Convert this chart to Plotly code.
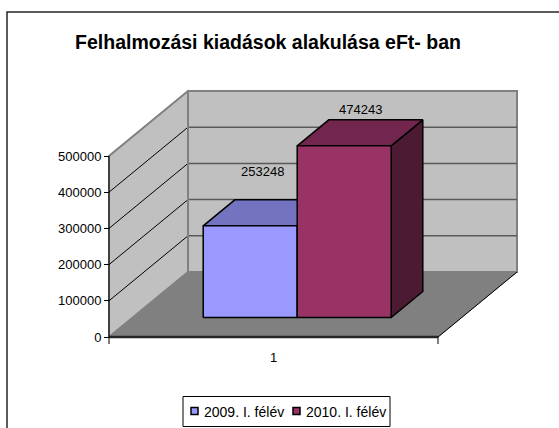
import plotly.graph_objects as go

# ---------------- data ----------------
categories = ["1"]
series_names = ["2009. I. félév", "2010. I. félév"]
series_values = [253248, 474243]
y_tick_values = [0, 100000, 200000, 300000, 400000, 500000]
title_text = "Felhalmozási kiadások alakulása eFt- ban"

# ---------------- style ----------------
front_colors = ["#9999FF", "#993366"]
top_colors = ["#7373C0", "#73264D"]
side_colors = ["#5C5C99", "#4D1A33"]
label_shifts = [(-4, 41), (0, 23)]   # (xshift, yshift) px of value labels
FONT = "Arial, 'Liberation Sans', sans-serif"

W_PX, H_PX = 559, 428
ORIGIN_X, ORIGIN_Y = 109, 337          # pixel of (x=0, value=0), front plane
PX_PER_X = 329.0                       # category width in px
PX_PER_V = 181.0 / 500000.0            # px per value unit
DX = 79.0 / PX_PER_X                   # depth offset in x units
DY = 65.0 / PX_PER_V                   # depth offset in value units
L, R, T, B = 95, 530, 75, 352          # plot area in px

GAP = 1.5          # gap width (150%)
D0, D1 = 0.3, 0.7  # bar depth range (fraction of floor depth)
AXIS_MAX = max(y_tick_values)


def P(x, v, d):
    return x + d * DX, v + d * DY


def px_to_paper(px, py):
    return (px - L) / (R - L), (B - py) / (B - T)


fig = go.Figure()


def poly(points, fill=None, line_color="black", width=1.0, closed=True):
    xs = [p[0] for p in points]
    ys = [p[1] for p in points]
    if closed:
        xs.append(xs[0])
        ys.append(ys[0])
    fig.add_trace(go.Scatter(
        x=xs, y=ys, mode="lines",
        fill="toself" if fill else None,
        fillcolor=fill,
        line=dict(color=line_color, width=width),
        showlegend=False, hoverinfo="skip"))


# back wall
poly([P(0, 0, 1), P(1, 0, 1), P(1, AXIS_MAX, 1), P(0, AXIS_MAX, 1)],
     fill="#C0C0C0", line_color="#808080", width=2)
# side wall
poly([P(0, 0, 0), P(0, 0, 1), P(0, AXIS_MAX, 1), P(0, AXIS_MAX, 0)],
     fill="#C0C0C0", line_color="#808080", width=2)
# gridlines
for v in y_tick_values[1:-1]:
    poly([P(0, v, 0), P(0, v, 1)], line_color="black", width=1, closed=False)
    poly([P(0, v, 1), P(1, v, 1)], line_color="#5A5A5A", width=1.5, closed=False)
# back wall / side wall separating edge
poly([P(0, 0, 1), P(0, AXIS_MAX, 1)], line_color="#808080", width=2, closed=False)
# floor
poly([P(0, 0, 0), P(1, 0, 0), P(1, 0, 1), P(0, 0, 1)],
     fill="#808080", line_color="#808080", width=1)
poly([P(1, 0, 0), P(1, 0, 1)], line_color="black", width=1, closed=False)
poly([P(0, 0, 0), P(1, 0, 0)], line_color="#262626", width=2.5, closed=False)

# bars
n = len(series_values)
bw = 1.0 / (n + GAP)
for i, (name, val) in enumerate(zip(series_names, series_values)):
    x0 = GAP / 2 * bw + i * bw
    x1 = x0 + bw
    # right side face
    poly([P(x1, 0, D0), P(x1, 0, D1), P(x1, val, D1), P(x1, val, D0)],
         fill=side_colors[i], width=1.5)
    # top face
    poly([P(x0, val, D0), P(x1, val, D0), P(x1, val, D1), P(x0, val, D1)],
         fill=top_colors[i], width=1.5)
    # front face
    poly([P(x0, 0, D0), P(x1, 0, D0), P(x1, val, D0), P(x0, val, D0)],
         fill=front_colors[i], width=1.5)
    lx, ly = P((x0 + x1) / 2, val, 0.5)
    fig.add_annotation(x=lx, y=ly, text=str(val), showarrow=False,
                       xshift=label_shifts[i][0], yshift=label_shifts[i][1],
                       font=dict(family=FONT, size=13, color="black"))

# front value axis line and category boundary ticks
poly([P(0, 0, 0), P(0, AXIS_MAX, 0)], line_color="black", width=1, closed=False)
tick_down = -7 / PX_PER_V
for xb in (0, 1):
    poly([P(xb, 0, 0), P(xb, tick_down, 0)], line_color="black", width=1, closed=False)

# category label
cx, cy = P(0.5, 0, 0)
fig.add_annotation(x=cx, y=cy, text=categories[0], showarrow=False, yshift=-20,
                   font=dict(family=FONT, size=13, color="black"))

# ---------------- border and legend (drawn) ----------------
shapes = []
bx0, by0 = px_to_paper(7, 12)
bx1, by1 = px_to_paper(580, 450)
shapes.append(dict(type="rect", xref="paper", yref="paper", x0=bx0, y0=by1, x1=bx1, y1=by0,
                   line=dict(color="#262626", width=1.5), fillcolor="rgba(0,0,0,0)", layer="below"))
lx0, ly0 = px_to_paper(183, 396.5)
lx1, ly1 = px_to_paper(390, 426.5)
shapes.append(dict(type="rect", xref="paper", yref="paper", x0=lx0, y0=ly1, x1=lx1, y1=ly0,
                   line=dict(color="black", width=1), fillcolor="white"))
legend_x = [191, 293]
for i, name in enumerate(series_names):
    sx0, sy0 = px_to_paper(legend_x[i], 407.5)
    sx1, sy1 = px_to_paper(legend_x[i] + 7, 414.5)
    shapes.append(dict(type="rect", xref="paper", yref="paper", x0=sx0, y0=sy1, x1=sx1, y1=sy0,
                       line=dict(color="black", width=1.5), fillcolor=front_colors[i]))
    tx, ty = px_to_paper(legend_x[i] + 11, 412)
    fig.add_annotation(xref="paper", yref="paper", x=tx, y=ty, text=name, showarrow=False,
                       xanchor="left", yanchor="middle",
                       font=dict(family=FONT, size=14, color="black"))

fig.update_layout(
    width=W_PX, height=H_PX,
    margin=dict(l=L, r=W_PX - R, t=T, b=H_PX - B),
    paper_bgcolor="white", plot_bgcolor="white",
    showlegend=False,
    shapes=shapes,
    title=dict(text="<b>" + title_text + "</b>", xref="container", yref="container",
               x=268 / W_PX, y=1 - 42 / H_PX,
               xanchor="center", yanchor="middle",
               font=dict(family=FONT, size=19.5, color="black")),
    xaxis=dict(range=[(L - ORIGIN_X) / PX_PER_X, (R - ORIGIN_X) / PX_PER_X],
               visible=False, fixedrange=True),
    yaxis=dict(range=[-(B - ORIGIN_Y) / PX_PER_V, (ORIGIN_Y - T) / PX_PER_V],
               anchor="free", position=(ORIGIN_X - L) / (R - L), side="left",
               tickvals=y_tick_values, ticktext=[str(v) for v in y_tick_values],
               ticks="outside", ticklen=5, tickwidth=1, tickcolor="black",
               showgrid=False, zeroline=False, showline=False,
               tickfont=dict(family=FONT, size=13, color="black"), fixedrange=True),
)

fig.write_html("out.html",
               config={"displayModeBar": False, "staticPlot": True},
               post_script="document.body.style.margin='0';document.body.style.overflow='hidden';")
